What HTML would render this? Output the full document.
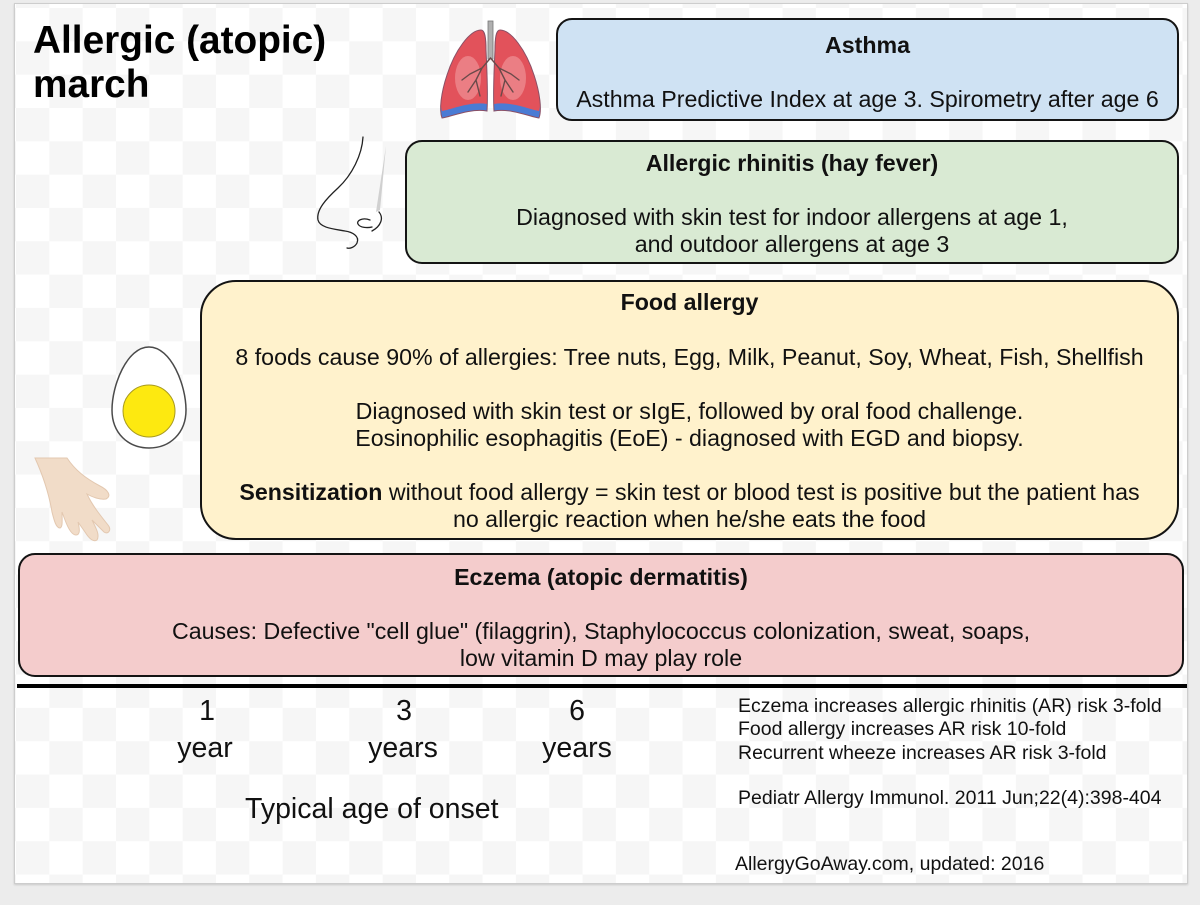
<!DOCTYPE html>
<html>
<head>
<meta charset="utf-8">
<style>
  html, body { margin:0; padding:0; }
  body { width:1200px; height:905px; background:#ececec; position:relative; overflow:hidden;
         font-family:"Liberation Sans", Arial, sans-serif; color:#111; }
  .slide { position:absolute; left:14px; top:3px; width:1174px; height:881px; box-sizing:border-box;
           border:1px solid #cdcdcd; box-shadow:0 1px 2px rgba(0,0,0,0.15);
           background-color:#fff;
           background-image:conic-gradient(#f6f6f6 25%, #ffffff 0 50%, #f6f6f6 0 75%, #ffffff 0);
           background-size:66.66px 66.66px; background-position:1px 4px; }
  .box { position:absolute; box-sizing:border-box; border:2px solid #141414; }
  .txt { position:absolute; text-align:center; font-size:23.2px; line-height:27.1px; white-space:nowrap; }
  .txt div { height:27.1px; }
  b { font-weight:bold; }
  .abs { position:absolute; white-space:nowrap; }
  .age { font-size:28.5px; line-height:34px; text-align:center; width:120px; }
  .note { font-size:19.5px; line-height:23.5px; }
</style>
</head>
<body>
<div class="slide"></div>

<!-- Title -->
<div class="abs" style="left:33px; top:19.4px; font-size:38.8px; line-height:44px; font-weight:bold; color:#000;">Allergic (atopic)<br>march</div>

<!-- Icons -->
<svg width="1200" height="905" style="position:absolute;left:0;top:0;" xmlns="http://www.w3.org/2000/svg">
  <defs>
    <clipPath id="lclip"><path d="M 481 30 C 470 30, 455 50, 447 75 C 441 93, 439 110, 442 118 C 450 117, 470 108, 487 111 C 488 95, 487 70, 486 50 C 486 38, 485 30, 481 30 Z"/></clipPath>
    <clipPath id="rclip"><path d="M 500 30 C 511 30, 526 50, 534 75 C 540 93, 542 110, 539 118 C 531 117, 511 108, 494 111 C 493 95, 494 70, 495 50 C 495 38, 496 30, 500 30 Z"/></clipPath>
  </defs>
  <!-- Lungs -->
  <g clip-path="url(#lclip)">
    <rect x="430" y="20" width="70" height="110" fill="#4a7bd4"/>
    <path transform="translate(0,-7)" d="M 481 30 C 470 30, 455 50, 447 75 C 441 93, 439 110, 442 118 C 450 117, 470 108, 487 111 C 488 95, 487 70, 486 50 C 486 38, 485 30, 481 30 Z" fill="#e2525b"/>
    <ellipse cx="468" cy="78" rx="13" ry="22" fill="#ee8a8f" opacity="0.8"/>
  </g>
  <g clip-path="url(#rclip)">
    <rect x="480" y="20" width="70" height="110" fill="#4a7bd4"/>
    <path transform="translate(0,-7)" d="M 500 30 C 511 30, 526 50, 534 75 C 540 93, 542 110, 539 118 C 531 117, 511 108, 494 111 C 493 95, 494 70, 495 50 C 495 38, 496 30, 500 30 Z" fill="#e2525b"/>
    <ellipse cx="513" cy="78" rx="13" ry="22" fill="#ee8a8f" opacity="0.8"/>
  </g>
  <path d="M 481 30 C 470 30, 455 50, 447 75 C 441 93, 439 110, 442 118 C 450 117, 470 108, 487 111 C 488 95, 487 70, 486 50 C 486 38, 485 30, 481 30 Z" fill="none" stroke="#8a5066" stroke-width="1"/>
  <path d="M 500 30 C 511 30, 526 50, 534 75 C 540 93, 542 110, 539 118 C 531 117, 511 108, 494 111 C 493 95, 494 70, 495 50 C 495 38, 496 30, 500 30 Z" fill="none" stroke="#8a5066" stroke-width="1"/>
  <rect x="488" y="21" width="5" height="38" fill="#b0b0b0" stroke="#777" stroke-width="0.8"/>
  <g stroke="#6a4a4a" stroke-width="1.4" fill="none" stroke-linecap="round">
    <path d="M 490.5 58 L 482 68 L 476 80 M 482 68 L 470 74 M 476 80 L 468 92 M 476 80 L 480 96 M 470 74 L 462 80"/>
    <path d="M 490.5 58 L 499 68 L 505 80 M 499 68 L 511 74 M 505 80 L 513 92 M 505 80 L 501 96 M 511 74 L 519 80"/>
  </g>

  <!-- Nose -->
  <path d="M 386 146 L 380 210 L 376 212 Z" fill="#d0d0d0"/>
  <g stroke="#222" stroke-width="1.3" fill="none" stroke-linecap="round">
    <path d="M 363 137 C 362 155, 352 175, 338 188 C 326 199, 316 210, 318 220 C 320 228, 334 229, 345 231 C 352 232, 360 236, 357 243 C 355 247, 350 249, 347 248"/>
    <path d="M 370 220 C 362 217, 356 221, 358 224 C 360 228, 368 228, 372 227"/>
    <path d="M 379 212 C 384 218, 381 226, 372 231"/>
  </g>

  <!-- Egg -->
  <path d="M149 347 C 171 347, 186 385, 186 410 C 186 433, 170 448, 149 448 C 128 448, 112 433, 112 410 C 112 385, 127 347, 149 347 Z" fill="#fff" stroke="#4a4a4a" stroke-width="1.5"/>
  <circle cx="149" cy="411" r="26" fill="#fde910" stroke="#a89a20" stroke-width="1"/>

  <!-- Hand -->
  <path d="M 35 458 L 67 458 C 75 470, 85 478, 100 486 C 108 490, 112 496, 106 499 C 100 500, 92 497, 87 494 C 92 505, 100 515, 108 525 C 112 530, 108 535, 104 532 L 92 520 C 96 528, 100 535, 97 540 C 94 542, 90 540, 85 532 L 78 522 C 80 530, 80 535, 76 535 C 72 535, 68 528, 65 520 L 62 512 C 62 520, 63 527, 60 528 C 56 528, 54 520, 52 512 C 50 500, 45 480, 35 458 Z" fill="#f1dcc8" stroke="#e3c8b0" stroke-width="1"/>
</svg>

<!-- Asthma -->
<div class="box" style="left:556px; top:18px; width:623px; height:103px; border-radius:16px; background:#cfe2f3;"></div>
<div class="txt" style="left:556px; top:31.5px; width:623px;">
  <div><b>Asthma</b></div>
  <div>&nbsp;</div>
  <div>Asthma Predictive Index at age 3. Spirometry after age 6</div>
</div>

<!-- Allergic rhinitis -->
<div class="box" style="left:405px; top:140px; width:774px; height:124px; border-radius:17px; background:#d9ead3;"></div>
<div class="txt" style="left:405px; top:149.5px; width:774px;">
  <div><b>Allergic rhinitis (hay fever)</b></div>
  <div>&nbsp;</div>
  <div>Diagnosed with skin test for indoor allergens at age 1,</div>
  <div>and outdoor allergens at age 3</div>
</div>

<!-- Food allergy -->
<div class="box" style="left:200px; top:280px; width:979px; height:260px; border-radius:36px; background:#fff2cc;"></div>
<div class="txt" style="left:200px; top:289.4px; width:979px;">
  <div><b>Food allergy</b></div>
  <div>&nbsp;</div>
  <div>8 foods cause 90% of allergies: Tree nuts, Egg, Milk, Peanut, Soy, Wheat, Fish, Shellfish</div>
  <div>&nbsp;</div>
  <div>Diagnosed with skin test or sIgE, followed by oral food challenge.</div>
  <div>Eosinophilic esophagitis (EoE) - diagnosed with EGD and biopsy.</div>
  <div>&nbsp;</div>
  <div><b>Sensitization</b> without food allergy = skin test or blood test is positive but the patient has</div>
  <div>no allergic reaction when he/she eats the food</div>
</div>

<!-- Eczema -->
<div class="box" style="left:18px; top:553px; width:1166px; height:124px; border-radius:17px; background:#f4cccc;"></div>
<div class="txt" style="left:18px; top:563.5px; width:1166px;">
  <div><b>Eczema (atopic dermatitis)</b></div>
  <div>&nbsp;</div>
  <div>Causes: Defective "cell glue" (filaggrin), Staphylococcus colonization, sweat, soaps,</div>
  <div>low vitamin D may play role</div>
</div>

<!-- Timeline line -->
<div style="position:absolute; left:17px; top:684px; width:1170px; height:4px; background:#000;"></div>

<!-- Ages -->
<div class="abs age" style="left:147px; top:694px;">1</div>
<div class="abs age" style="left:145px; top:731px;">year</div>
<div class="abs age" style="left:344px; top:694px;">3</div>
<div class="abs age" style="left:343px; top:731px;">years</div>
<div class="abs age" style="left:517px; top:694px;">6</div>
<div class="abs age" style="left:517px; top:731px;">years</div>
<div class="abs" style="left:245px; top:792px; font-size:28.5px; line-height:34px;">Typical age of onset</div>

<!-- Notes -->
<div class="abs note" style="left:738px; top:695px;">Eczema increases allergic rhinitis (AR) risk 3-fold</div>
<div class="abs note" style="left:738px; top:718.3px;">Food allergy increases AR risk 10-fold</div>
<div class="abs note" style="left:738px; top:741.6px;">Recurrent wheeze increases AR risk 3-fold</div>
<div class="abs note" style="left:738px; top:787.3px;">Pediatr Allergy Immunol. 2011 Jun;22(4):398-404</div>
<div class="abs note" style="left:735px; top:852.5px;">AllergyGoAway.com, updated: 2016</div>

</body>
</html>
